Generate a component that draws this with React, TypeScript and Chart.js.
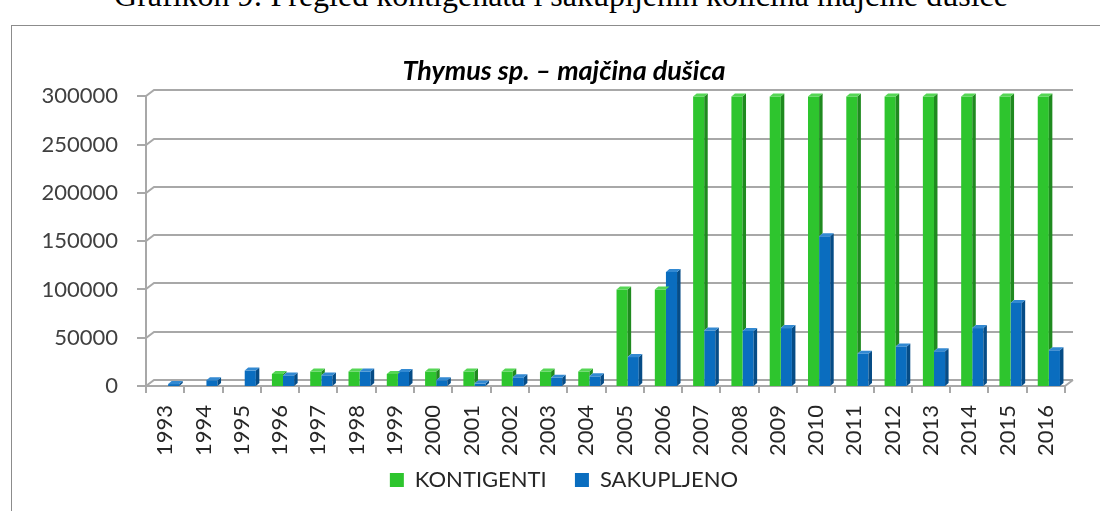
import { useEffect, useRef } from "react";
import { Chart, registerables } from "chart.js";

Chart.register(...registerables);

const caption = "Grafikon 9: Pregled kontigenata i sakupljenih količina majčine dušice";
const chartTitle = "Thymus sp. – majčina dušica";
const seriesNames = ["KONTIGENTI", "SAKUPLJENO"];
const categories = [
  "1993", "1994", "1995", "1996", "1997", "1998", "1999", "2000",
  "2001", "2002", "2003", "2004", "2005", "2006", "2007", "2008",
  "2009", "2010", "2011", "2012", "2013", "2014", "2015", "2016",
];
const kontigenti = [
  0, 0, 0, 12500, 15000, 15000, 12500, 15000,
  15000, 15000, 15000, 15000, 100000, 100000, 300000, 300000,
  300000, 300000, 300000, 300000, 300000, 300000, 300000, 300000,
];
const sakupljeno = [
  2000, 6000, 16000, 11000, 11000, 15000, 14500, 6000,
  2500, 9000, 8500, 10000, 30000, 118000, 57500, 57000,
  60000, 155000, 33500, 41000, 36000, 60000, 86000, 37000,
];
const yTickValues = [0, 50000, 100000, 150000, 200000, 250000, 300000];

const GREEN = "#2EC52E";
const GREEN_SIDE = "#1F8A1F";
const GREEN_TOP = "#55D655";
const BLUE = "#0A6DBF";
const BLUE_SIDE = "#064C86";
const BLUE_TOP = "#3289D2";
const GRID = "#A8A8A8";
const DX = 3.5;
const DY = -3;
const WX = 8;
const WY = -6;
const SHIFT = 3;

const frame3d = {
  id: "frame3d",
  beforeDatasetsDraw(chart: any) {
    const { ctx, chartArea } = chart;
    const { left, right, bottom } = chartArea;
    const ys = chart.scales.y;
    ctx.save();
    ctx.strokeStyle = GRID;
    ctx.lineWidth = 2;
    ctx.beginPath();
    for (const v of yTickValues) {
      const py = Math.round(ys.getPixelForValue(v));
      ctx.moveTo(left - 9, py);
      ctx.lineTo(left, py);
      ctx.lineTo(left + WX, py + WY);
      ctx.lineTo(right + WX, py + WY);
    }
    const topY = Math.round(ys.getPixelForValue(yTickValues[yTickValues.length - 1]));
    ctx.moveTo(left, topY);
    ctx.lineTo(left, bottom);
    ctx.moveTo(left, bottom);
    ctx.lineTo(right, bottom);
    ctx.lineTo(right + WX, bottom + WY);
    const n = categories.length;
    const w = (right - left) / n;
    for (let i = 0; i <= n; i++) {
      const px = Math.round(left + i * w);
      ctx.moveTo(px, bottom);
      ctx.lineTo(px, bottom + 7);
    }
    ctx.stroke();
    ctx.restore();
    ctx.save();
    ctx.translate(SHIFT, 0);
  },
  afterDatasetsDraw(chart: any) {
    const { ctx } = chart;
    const gm = chart.getDatasetMeta(0);
    const bm = chart.getDatasetMeta(1);
    const gd = chart.data.datasets[0].data;
    const bd = chart.data.datasets[1].data;
    const poly = (pts: number[][], color: string) => {
      ctx.fillStyle = color;
      ctx.beginPath();
      ctx.moveTo(pts[0][0], pts[0][1]);
      for (let k = 1; k < pts.length; k++) ctx.lineTo(pts[k][0], pts[k][1]);
      ctx.closePath();
      ctx.fill();
    };
    for (let i = 0; i < categories.length; i++) {
      const ge = gm.data[i];
      const be = bm.data[i];
      const bp = be.getProps(["x", "y", "base", "width"], true);
      if (gd[i]) {
        const { x, y, base, width } = ge.getProps(["x", "y", "base", "width"], true);
        const l = x - width / 2;
        const r = x + width / 2;
        const low = bd[i] ? Math.min(base, bp.y) : base;
        if (low > y) poly([[r, y], [r + DX, y + DY], [r + DX, low + DY], [r, low]], GREEN_SIDE);
        poly([[l, y], [l + DX, y + DY], [r + DX, y + DY], [r, y]], GREEN_TOP);
      }
      if (bd[i]) {
        const { x, y, base, width } = bp;
        const l = x - width / 2;
        const r = x + width / 2;
        poly([[r, y], [r + DX, y + DY], [r + DX, base + DY], [r, base]], BLUE_SIDE);
        poly([[l, y], [l + DX, y + DY], [r + DX, y + DY], [r, y]], BLUE_TOP);
      }
    }
    ctx.restore();
  },
};

export default function App() {
  const ref = useRef<HTMLCanvasElement | null>(null);
  useEffect(() => {
    if (!ref.current) return;
    Chart.defaults.font.family = "Lato";
    const chart = new Chart(ref.current, {
      type: "bar",
      data: {
        labels: categories,
        datasets: [
          { label: seriesNames[0], data: kontigenti, backgroundColor: GREEN, borderWidth: 0, clip: false as any },
          { label: seriesNames[1], data: sakupljeno, backgroundColor: BLUE, borderWidth: 0, clip: false as any },
        ],
      },
      options: {
        responsive: false,
        animation: false,
        layout: { padding: { left: 38, right: 10, top: 0, bottom: 10 } },
        datasets: { bar: { barPercentage: 1, categoryPercentage: 0.58 } },
        plugins: {
          title: {
            display: true,
            text: chartTitle,
            color: "#000",
            font: { size: 27, weight: "bold", style: "italic" },
            padding: { top: 55, bottom: 9 },
          },
          legend: {
            position: "bottom",
            labels: {
              boxWidth: 14,
              boxHeight: 14,
              padding: 0,
              color: "#262626",
              font: { size: 22 },
              generateLabels: (c: any) => {
                const items = Chart.defaults.plugins.legend.labels.generateLabels(c);
                if (items[0]) items[0].text = items[0].text + "     ";
                return items;
              },
            },
          },
          tooltip: { enabled: false },
        },
        scales: {
          x: {
            afterFit: (s: any) => { s.height = 83; },
            ticks: { autoSkip: false, minRotation: 90, maxRotation: 90, padding: 19, color: "#262626", font: { size: 22 } },
            grid: { display: false, drawTicks: false },
            border: { display: false },
          },
          y: {
            min: 0,
            max: 300000,
            afterFit: (s: any) => { s.width = 108; },
            afterBuildTicks: (s: any) => { s.ticks = yTickValues.map((v) => ({ value: v })); },
            ticks: { padding: 28, color: "#404040", font: { size: 22 }, callback: (v: any) => String(v) },
            grid: { display: false, drawTicks: false },
            border: { display: false },
          },
          y2: {
            position: "right",
            display: true,
            min: 0,
            max: 300000,
            afterFit: (s: any) => { s.width = 25; },
            ticks: { display: false },
            grid: { display: false, drawTicks: false },
            border: { display: false },
          },
        },
      },
      plugins: [frame3d],
    });
    return () => chart.destroy();
  }, []);
  return (
    <div style={{ position: "fixed", left: 0, top: 0, width: 1100, height: 511, overflow: "hidden", background: "#fff" }}>
      <div style={{ position: "absolute", left: 11, top: -23, width: 1100, textAlign: "center", fontFamily: "'Liberation Serif', serif", fontSize: 32, lineHeight: "36px", color: "#000", whiteSpace: "nowrap" }}>
        {caption}
      </div>
      <div style={{ position: "absolute", left: 11, top: 25, width: 1200, height: 600, border: "1px solid #8c8c8c" }} />
      <canvas ref={ref} width={1100} height={511} style={{ position: "absolute", left: 0, top: 0, width: 1100, height: 511 }} />
    </div>
  );
}
